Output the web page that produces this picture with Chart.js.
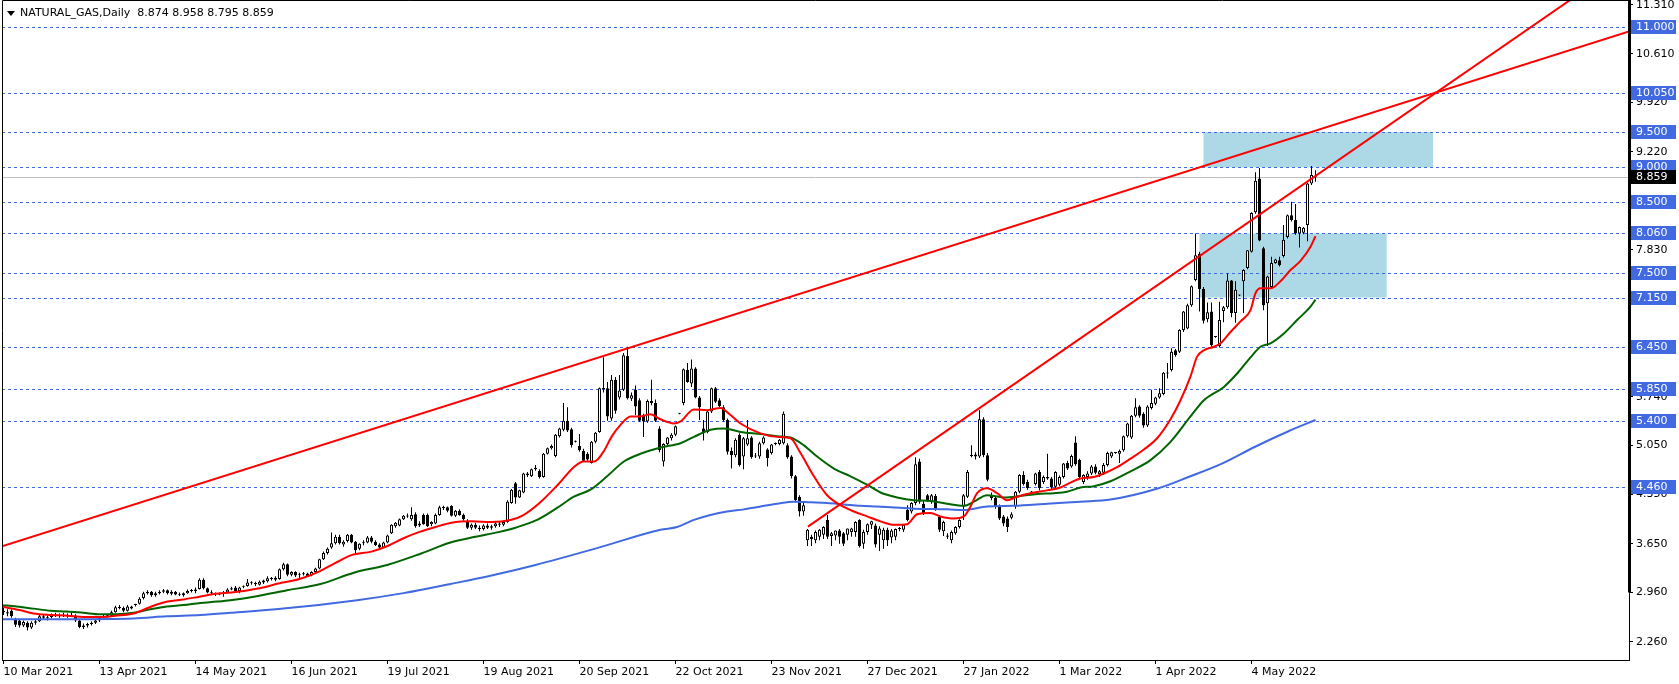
<!DOCTYPE html>
<html>
<head>
<meta charset="utf-8">
<title>NATURAL_GAS, Daily</title>
<script src="https://cdn.jsdelivr.net/npm/chart.js@4.4.1/dist/chart.umd.min.js"></script>
<style>
  html, body { margin: 0; padding: 0; background: #fff; }
  #wrap { position: relative; width: 1679px; height: 684px; }
</style>
</head>
<body>
<div id="wrap"><canvas id="gasChart"></canvas></div>
<script>
'use strict';

// daily candles, bar 0 = 10 Mar 2021
const open = [
  2.70,2.66,2.70,2.58,2.56,2.49,2.53,2.46,2.53,2.55, 2.62,2.60,2.61,2.64,2.63,2.64,2.62,2.64,2.63,2.56,
  2.47,2.49,2.51,2.53,2.56,2.60,2.62,2.63,2.68,2.75, 2.74,2.70,2.76,2.78,2.80,2.88,2.95,2.97,2.92,2.95,
  2.97,2.99,2.94,2.97,2.93,2.92,2.95,2.98,2.98,3.01, 3.14,3.02,2.96,2.95,2.93,2.94,2.96,3.00,3.03,2.98,
  3.04,3.05,3.10,3.09,3.07,3.10,3.12,3.16,3.14,3.15, 3.29,3.36,3.21,3.25,3.21,3.22,3.23,3.20,3.25,3.30,
  3.43,3.52,3.60,3.66,3.75,3.64,3.69,3.78,3.68,3.58, 3.66,3.67,3.74,3.68,3.64,3.60,3.67,3.80,3.90,3.91,
  4.00,4.05,4.00,4.07,3.91,4.06,4.06,3.93,3.94,4.06, 4.17,4.17,4.19,4.05,4.12,4.06,3.98,3.88,3.92,3.88,
  3.86,3.91,3.88,3.90,3.94,3.92,3.96,4.23,4.51,4.31, 4.38,4.65,4.61,4.71,4.69,4.60,4.93,5.01,4.90,5.18,
  5.27,5.40,5.28,5.10,5.04,4.97,4.93,4.80,5.10,5.24, 5.85,5.86,5.43,5.98,5.73,5.84,6.32,5.71,5.84,5.69,
  5.48,5.39,5.68,5.65,5.29,4.82,5.07,5.15,5.20,5.50, 5.65,6.12,5.93,6.14,5.73,5.29,5.24,5.53,5.86,5.69,
  5.59,5.41,4.97,4.91,5.20,4.89,5.06,5.16,4.90,4.89, 5.08,4.99,4.94,5.07,5.07,5.08,5.05,4.89,4.61,4.32,
  4.11,3.70,3.75,3.70,3.75,3.78,3.99,3.76,3.77,3.84, 3.80,3.78,3.82,3.82,3.99,3.65,3.82,3.92,3.91,3.78,
  3.70,3.85,3.74,3.75,3.86,3.85,4.13,4.11,4.23,4.82, 4.22,4.34,4.25,4.33,4.03,3.83,3.77,3.70,3.80,3.89,
  4.18,4.32,4.91,4.89,4.89,5.42,4.91,4.34,4.30,4.18, 4.04,4.01,4.02,4.18,4.39,4.63,4.53,4.38,4.50,4.67,
  4.53,4.60,4.58,4.46,4.49,4.60,4.80,4.75,5.09,4.84, 4.53,4.60,4.65,4.75,4.64,4.66,4.77,4.89,4.94,4.93,
  4.98,5.18,5.16,5.47,5.60,5.50,5.33,5.58,5.64,5.73, 5.78,6.07,6.12,6.40,6.38,6.69,6.71,7.04,7.40,7.77,
  7.27,6.84,6.95,6.59,6.46,6.96,7.01,7.39,6.93,7.18, 7.38,7.57,7.80,8.36,8.84,7.85,7.07,7.30,7.64,7.68,
  7.74,8.01,8.32,8.25,8.06,8.07,8.18,8.77,8.874
];
const high = [
  2.74,2.72,2.72,2.60,2.58,2.56,2.55,2.55,2.58,2.64, 2.64,2.63,2.66,2.67,2.66,2.67,2.66,2.67,2.65,2.58,
  2.52,2.53,2.55,2.57,2.62,2.64,2.65,2.70,2.77,2.78, 2.76,2.78,2.77,2.80,2.89,2.97,2.99,2.98,2.97,2.99,
  3.01,3.00,2.99,2.98,2.96,2.96,3.00,3.01,3.03,3.16, 3.16,3.03,2.99,2.96,2.96,2.98,3.02,3.04,3.05,3.04,
  3.06,3.15,3.12,3.11,3.13,3.14,3.19,3.18,3.19,3.30, 3.38,3.37,3.26,3.26,3.24,3.25,3.24,3.26,3.31,3.44,
  3.54,3.60,3.81,3.78,3.78,3.70,3.79,3.79,3.69,3.66, 3.70,3.76,3.76,3.70,3.66,3.68,3.78,3.93,3.96,4.01,
  4.06,4.08,4.17,4.10,3.97,4.08,4.08,3.97,4.08,4.19, 4.19,4.18,4.20,4.13,4.14,4.08,4.00,3.94,3.95,3.91,
  3.93,3.94,3.92,3.96,3.97,3.98,4.27,4.43,4.53,4.42, 4.66,4.67,4.72,4.77,4.71,4.94,5.02,5.06,5.21,5.30,
  5.65,5.59,5.30,5.12,5.21,5.00,4.95,5.11,5.24,5.87, 6.30,5.95,6.05,6.02,6.05,6.36,6.45,5.80,5.90,5.72,
  5.50,5.70,5.98,5.70,5.32,5.08,5.17,5.22,5.33,5.51, 6.14,6.22,6.27,6.16,5.75,5.41,5.55,5.87,5.88,5.72,
  5.62,5.43,5.02,5.15,5.22,5.17,5.41,5.18,4.94,5.10, 5.18,5.01,5.07,5.09,5.14,5.53,5.08,4.91,4.63,4.34,
  4.26,3.86,3.78,3.84,3.86,3.90,4.06,3.82,3.84,3.86, 3.82,3.87,3.88,3.97,4.00,3.85,3.94,3.98,3.94,3.90,
  3.88,3.88,3.86,3.87,3.89,3.93,4.20,4.24,4.88,4.86, 4.26,4.36,4.36,4.36,4.06,3.98,3.80,3.84,3.90,4.00,
  4.36,4.70,5.05,4.95,5.55,5.45,4.94,4.38,4.32,4.21, 4.06,4.04,4.10,4.40,4.64,4.68,4.56,4.40,4.66,4.70,
  4.62,4.93,4.60,4.68,4.62,4.80,4.83,4.92,5.18,4.86, 4.64,4.68,4.77,4.78,4.70,4.80,4.96,4.96,4.95,4.99,
  5.19,5.37,5.48,5.72,5.62,5.52,5.62,5.84,5.74,5.86, 6.09,6.22,6.43,6.42,6.70,6.96,7.06,7.32,8.06,7.80,
  7.30,7.08,7.08,6.60,7.09,7.03,7.49,7.40,7.38,7.19, 7.55,7.82,8.36,8.93,8.99,7.87,7.46,7.73,7.70,7.73,
  8.18,8.33,8.51,8.48,8.16,8.15,8.78,9.02,8.958
];
const low = [
  2.64,2.62,2.60,2.47,2.46,2.47,2.42,2.44,2.50,2.54, 2.58,2.56,2.59,2.61,2.60,2.61,2.60,2.62,2.54,2.45,
  2.44,2.46,2.49,2.51,2.54,2.58,2.60,2.62,2.67,2.72, 2.68,2.69,2.72,2.76,2.79,2.86,2.93,2.90,2.90,2.93,
  2.95,2.93,2.92,2.92,2.91,2.90,2.94,2.96,2.95,3.00, 3.00,2.95,2.93,2.91,2.92,2.90,2.95,2.99,2.96,2.95,
  3.02,3.04,3.07,3.05,3.06,3.08,3.10,3.13,3.12,3.14, 3.27,3.19,3.19,3.18,3.16,3.20,3.18,3.19,3.24,3.29,
  3.42,3.50,3.58,3.64,3.64,3.61,3.67,3.66,3.52,3.56, 3.63,3.66,3.66,3.62,3.58,3.59,3.66,3.79,3.88,3.90,
  3.99,4.02,3.98,3.88,3.89,3.92,3.89,3.90,3.93,4.05, 4.13,4.10,4.04,4.03,4.05,3.98,3.86,3.85,3.86,3.83,
  3.84,3.86,3.85,3.88,3.89,3.90,3.95,4.22,4.22,4.30, 4.37,4.60,4.60,4.69,4.58,4.59,4.92,4.99,4.88,5.16,
  5.25,5.24,5.02,5.09,4.96,4.82,4.83,4.79,5.08,5.23, 5.80,5.40,5.40,5.50,5.70,5.82,5.70,5.68,5.48,5.38,
  5.17,5.37,5.62,5.38,4.95,4.75,5.05,5.12,5.18,5.49, 5.62,5.94,5.88,5.72,5.41,5.12,5.22,5.51,5.65,5.59,
  5.39,4.92,4.72,4.88,4.75,4.71,5.04,4.86,4.87,4.86, 5.06,4.75,4.92,5.05,5.05,5.06,4.86,4.58,4.25,4.04,
  4.05,3.62,3.62,3.66,3.70,3.72,3.72,3.62,3.70,3.65, 3.62,3.70,3.75,3.75,3.60,3.58,3.78,3.86,3.60,3.55,
  3.58,3.62,3.66,3.70,3.83,3.82,3.97,4.08,4.20,4.22, 4.06,4.25,4.22,4.12,3.82,3.76,3.72,3.66,3.78,3.87,
  3.99,4.30,4.88,4.85,4.87,4.88,4.54,4.27,4.15,3.99, 3.90,3.82,4.00,4.15,4.37,4.48,4.42,4.36,4.48,4.41,
  4.50,4.56,4.43,4.44,4.47,4.58,4.70,4.73,4.76,4.58, 4.50,4.56,4.63,4.64,4.60,4.63,4.75,4.87,4.93,4.80,
  4.96,5.16,5.14,5.45,5.44,5.30,5.31,5.56,5.62,5.71, 5.76,6.00,6.10,6.31,6.36,6.66,6.70,7.02,7.38,6.95,
  6.78,6.80,6.45,6.58,6.44,6.80,6.99,6.87,6.79,7.17, 6.93,7.55,7.79,8.34,7.95,6.97,6.46,7.28,7.63,7.59,
  7.72,7.99,8.23,8.04,7.86,8.05,7.95,8.75,8.795
];
const close = [
  2.68,2.68,2.62,2.50,2.49,2.54,2.46,2.53,2.55,2.62, 2.60,2.61,2.64,2.63,2.64,2.62,2.64,2.63,2.56,2.47,
  2.49,2.51,2.53,2.56,2.60,2.62,2.63,2.68,2.75,2.74, 2.70,2.76,2.73,2.78,2.87,2.95,2.97,2.92,2.95,2.97,
  2.99,2.95,2.97,2.93,2.92,2.95,2.98,2.99,3.00,3.14, 3.02,2.96,2.95,2.93,2.94,2.96,3.00,3.02,2.98,3.03,
  3.05,3.10,3.09,3.08,3.11,3.13,3.16,3.15,3.17,3.29, 3.36,3.21,3.25,3.20,3.22,3.23,3.19,3.25,3.30,3.43,
  3.52,3.58,3.66,3.75,3.66,3.68,3.78,3.67,3.56,3.65, 3.67,3.74,3.68,3.63,3.60,3.67,3.77,3.92,3.95,4.00,
  4.05,4.04,4.06,3.90,3.94,3.93,3.90,3.96,4.06,4.17, 4.16,4.12,4.05,4.12,4.06,4.00,3.88,3.92,3.88,3.86,
  3.91,3.88,3.90,3.94,3.92,3.96,4.25,4.42,4.31,4.41, 4.65,4.63,4.71,4.73,4.60,4.93,5.01,5.04,5.20,5.29,
  5.40,5.26,5.05,5.10,4.98,4.83,4.85,5.10,5.23,5.86, 5.86,5.46,5.98,5.54,5.83,6.33,5.72,5.76,5.60,5.40,
  5.39,5.68,5.65,5.40,4.98,5.07,5.16,5.20,5.32,5.50, 6.13,5.95,6.14,5.73,5.59,5.22,5.53,5.86,5.67,5.61,
  5.41,4.96,4.91,5.13,4.77,5.15,5.15,4.88,4.89,5.08, 5.16,4.87,5.06,5.07,5.13,5.50,4.88,4.61,4.27,4.11,
  4.20,3.85,3.72,3.82,3.85,3.89,3.75,3.80,3.84,3.75, 3.65,3.87,3.87,3.96,3.62,3.82,3.93,3.97,3.64,3.87,
  3.85,3.70,3.84,3.86,3.86,3.92,3.99,4.23,4.78,4.25, 4.08,4.27,4.34,4.13,3.85,3.96,3.75,3.82,3.89,3.99,
  4.34,4.67,4.90,4.92,5.42,4.91,4.56,4.30,4.18,4.01, 3.94,3.89,4.07,4.39,4.63,4.50,4.44,4.38,4.65,4.44,
  4.60,4.58,4.45,4.67,4.60,4.79,4.72,4.90,4.78,4.60, 4.63,4.65,4.75,4.66,4.68,4.77,4.94,4.95,4.94,4.97,
  5.18,5.36,5.47,5.59,5.47,5.33,5.60,5.65,5.73,5.79, 6.08,6.08,6.38,6.33,6.69,6.95,7.04,7.31,7.75,7.27,
  6.82,6.94,6.47,6.59,6.83,7.01,7.39,6.93,7.26,7.18, 7.54,7.82,8.35,8.81,7.96,7.04,7.45,7.64,7.69,7.61,
  7.97,8.32,8.25,8.06,8.15,8.14,8.77,8.89,8.859
];

// moving averages: [bar, price]
const maRed = [
  [-0.5,2.76],[4,2.71],[7.5,2.66],[12,2.64],[16,2.63],[20,2.61],[24,2.61],[28,2.63],[32.5,2.66],[37,2.76],
  [41,2.83],[45,2.86],[49,2.90],[53,2.94],[57,2.96],[64,3.02],[69,3.09],[74,3.15],[79,3.26],[83,3.38],
  [87,3.49],[92,3.54],[96,3.62],[100,3.73],[104,3.82],[108,3.89],[112,3.95],[117,3.97],[122,3.96],[126.75,3.99],
  [130,4.06],[134,4.23],[138.6,4.49],[142.75,4.75],[145,4.82],[147.7,4.82],[150,4.96],[152,5.17],[154.25,5.34],[156.75,5.46],
  [159,5.46],[161.75,5.49],[164.25,5.42],[167.6,5.36],[169.25,5.39],[172.6,5.56],[175.9,5.55],[179.25,5.58],[181.75,5.48],[184.25,5.36],
  [189.25,5.22],[193.4,5.17],[196.75,5.15],[199.25,4.94],[202.6,4.61],[205.9,4.34],[209.25,4.20],[212.6,4.11],[215.9,4.04],[219.25,3.97],
  [222.6,3.92],[225.9,3.93],[228.4,4.07],[231.75,4.09],[234.25,4.04],[237.6,4.01],[240.1,4.04],[241.75,4.18],[243.4,4.37],[245.9,4.44],
  [248.4,4.37],[250.9,4.27],[253.4,4.32],[256.75,4.37],[260.9,4.41],[264.25,4.45],[266.75,4.52],[269.25,4.58],[272.6,4.60],[275.1,4.65],
  [278.4,4.74],[281.75,4.86],[285.1,4.99],[288.4,5.15],[291.75,5.42],[294.25,5.69],[296.75,6.03],[298.4,6.31],[300.1,6.40],[302.6,6.45],
  [304.25,6.50],[306.75,6.66],[309.25,6.81],[311.75,6.97],[313,7.21],[314.25,7.28],[316.75,7.28],[319.25,7.38],[321.75,7.54],[324.25,7.67],
  [326.75,7.87],[328,8.02]
];
const maGreen = [
  [-0.5,2.78],[3.3,2.76],[7.5,2.73],[11.7,2.70],[15.8,2.69],[20,2.67],[24.2,2.65],[28.3,2.65],[32.5,2.67],[36.7,2.72],
  [40.8,2.76],[45,2.78],[49.2,2.81],[53.3,2.83],[56.7,2.85],[62.6,2.90],[70.9,2.99],[79.25,3.08],[87.6,3.24],[95.9,3.35],
  [104.25,3.51],[111.75,3.67],[118,3.75],[124,3.82],[128,3.88],[133.4,3.99],[138.4,4.16],[142.6,4.32],[146.75,4.42],[150.9,4.61],
  [155.1,4.82],[159.25,4.93],[164.25,5.02],[169.25,5.08],[172.6,5.17],[176.75,5.27],[180.1,5.29],[184.25,5.24],[189.25,5.21],[193.4,5.18],
  [196.75,5.16],[200.1,5.05],[203.4,4.89],[207.6,4.72],[211.75,4.61],[215.9,4.49],[219.25,4.38],[223.4,4.31],[227.6,4.27],[231.75,4.26],
  [235.9,4.22],[240.1,4.19],[242.6,4.25],[245.9,4.34],[250.1,4.31],[254.25,4.33],[258.4,4.36],[262.6,4.37],[265.9,4.39],[269.25,4.45],
  [272.6,4.47],[276.75,4.54],[281.75,4.68],[286.75,4.84],[291.75,5.10],[296.75,5.46],[300.1,5.69],[305.1,5.88],[308.4,6.07],[311.75,6.30],
  [314.25,6.45],[316.75,6.50],[320.1,6.64],[323.4,6.83],[326.75,7.02],[328,7.12]
];
const maBlue = [
  [-0.5,2.58],[15.8,2.58],[32.5,2.59],[40.8,2.62],[49.2,2.64],[56.7,2.67],[70,2.73],[88.4,2.85],[100,2.95],[111.75,3.08],
  [122,3.20],[133,3.35],[149,3.60],[164.25,3.85],[168.4,3.89],[172.6,3.99],[176.75,4.06],[180.9,4.11],[185.1,4.14],[189.25,4.18],
  [193.4,4.22],[197.6,4.25],[201.75,4.24],[205.9,4.23],[210.1,4.21],[214.25,4.19],[218.4,4.18],[221.75,4.17],[227.6,4.15],[235.9,4.14],
  [240.1,4.13],[245.9,4.18],[252.6,4.19],[260.9,4.22],[269.25,4.25],[276.75,4.28],[288.75,4.44],[296.25,4.60],[304.6,4.79],[312.9,5.03],
  [321.25,5.25],[328,5.41]
];

// drawn objects
const trendA = [[-0.375, 3.615], [406.375, 10.93]];
const trendB = [[201.1, 3.894], [392, 11.39]];
const zoneFrom = [300, 299];
const zoneTo = [357.4, 345.8];
const zoneLow = [9.0, 7.15];
const zoneHigh = [9.5, 8.06];
const levels = [11.0, 10.05, 9.5, 9.0, 8.5, 8.06, 7.5, 7.15, 6.45, 5.85, 5.4, 4.46];

// axis labels
const priceTicks = [11.31, 10.61, 9.92, 9.22, 8.53, 7.83, 7.14, 6.45, 5.74, 5.05, 4.35, 3.65, 2.96, 2.26];
const dateTicks = ['10 Mar 2021', '13 Apr 2021', '14 May 2021', '16 Jun 2021', '19 Jul 2021', '19 Aug 2021', '20 Sep 2021',
  '22 Oct 2021', '23 Nov 2021', '27 Dec 2021', '27 Jan 2022', '1 Mar 2022', '1 Apr 2022', '4 May 2022'];
const dateTickBars = [0, 24, 48, 72, 96, 120, 144, 168, 192, 216, 240, 264, 288, 312];

const FONT = '11px "DejaVu Sans"';
Chart.defaults.font.family = '"DejaVu Sans"';
Chart.defaults.font.size = 11;
Chart.defaults.color = '#000';

const last = close.length - 1;
const bars = close.map((_, i) => i);
const pts = arr => arr.map(p => ({x: p[0], y: p[1]}));

// zones, levels, price labels, title
const mtOverlay = {
  id: 'mtOverlay',
  beforeDatasetsDraw(chart) {
    const {ctx, chartArea: a, scales: {x, y}} = chart;
    ctx.save();
    ctx.beginPath();
    ctx.rect(a.left, a.top, a.width, a.height);
    ctx.clip();
    ctx.fillStyle = '#ADD8E6';
    zoneFrom.forEach((f, k) => {
      const x0 = x.getPixelForValue(f), x1 = x.getPixelForValue(zoneTo[k]);
      const y0 = y.getPixelForValue(zoneHigh[k]), y1 = y.getPixelForValue(zoneLow[k]);
      ctx.fillRect(x0, y0, x1 - x0, y1 - y0);
    });
    ctx.lineWidth = 1;
    ctx.strokeStyle = '#C0C0C0';
    let py = Math.round(y.getPixelForValue(close[last])) + 0.5;
    ctx.beginPath(); ctx.moveTo(a.left, py); ctx.lineTo(a.right, py); ctx.stroke();
    ctx.strokeStyle = '#4169E1';
    ctx.setLineDash([3, 3]);
    levels.forEach(v => {
      py = Math.round(y.getPixelForValue(v)) + 0.5;
      ctx.beginPath(); ctx.moveTo(a.left, py); ctx.lineTo(a.right, py); ctx.stroke();
    });
    ctx.restore();
  },
  afterDraw(chart) {
    const {ctx, chartArea: a, scales: {y}} = chart;
    ctx.save();
    // frame
    ctx.strokeStyle = '#000';
    ctx.lineWidth = 1;
    ctx.beginPath();
    ctx.moveTo(a.left + 0.5, a.bottom); ctx.lineTo(a.left + 0.5, 0.5); ctx.lineTo(a.right, 0.5);
    ctx.stroke();
    ctx.fillStyle = '#000';
    ctx.fillRect(a.right - 1, 0, 3, y.getPixelForValue(2.96));
    // price boxes
    ctx.font = FONT;
    ctx.textBaseline = 'middle';
    ctx.textAlign = 'left';
    const box = (v, bg) => {
      const py = Math.round(y.getPixelForValue(v));
      ctx.fillStyle = bg;
      ctx.fillRect(a.right + 2, py - 7, 45, 14);
      ctx.fillStyle = '#fff';
      ctx.fillText(v.toFixed(3), a.right + 7, py + 0.5);
    };
    levels.forEach(v => box(v, '#4169E1'));
    box(close[last], '#000');
    // title
    ctx.fillStyle = '#000';
    ctx.beginPath();
    ctx.moveTo(7, 11); ctx.lineTo(15, 11); ctx.lineTo(11, 16); ctx.closePath();
    ctx.fill();
    ctx.fillText('NATURAL_GAS,Daily  ' + [open[last], high[last], low[last], close[last]].map(v => v.toFixed(3)).join(' '), 20, 13.5);
    ctx.restore();
  }
};

const chart = new Chart(document.getElementById('gasChart'), {
  type: 'bar',
  data: {
    datasets: [
      {
        type: 'line', label: 'Trend 1', data: pts(trendA),
        borderColor: '#FF0000', borderWidth: 2, pointRadius: 0, order: 0
      },
      {
        type: 'line', label: 'Trend 2', data: pts(trendB),
        borderColor: '#FF0000', borderWidth: 2, pointRadius: 0, order: 0
      },
      {
        type: 'line', label: 'MA fast', data: pts(maRed),
        borderColor: '#FF0000', borderWidth: 2, pointRadius: 0, cubicInterpolationMode: 'monotone', order: 1
      },
      {
        type: 'line', label: 'MA mid', data: pts(maGreen),
        borderColor: '#006400', borderWidth: 2, pointRadius: 0, cubicInterpolationMode: 'monotone', order: 1
      },
      {
        type: 'line', label: 'MA slow', data: pts(maBlue),
        borderColor: '#4169E1', borderWidth: 2, pointRadius: 0, cubicInterpolationMode: 'monotone', order: 1
      },
      {
        label: 'Body',
        data: bars.map(i => ({x: i, y: [open[i], close[i]]})),
        backgroundColor: bars.map(i => close[i] >= open[i] ? '#ffffff' : '#000000'),
        borderColor: '#000', borderWidth: 1, borderSkipped: false,
        barThickness: 3, maxBarThickness: 3, minBarLength: 1,
        grouped: false, inflateAmount: 0, order: 2
      },
      {
        label: 'Wick',
        data: bars.map(i => ({x: i, y: [low[i], high[i]]})),
        backgroundColor: '#000', borderWidth: 0,
        barThickness: 1, maxBarThickness: 1,
        grouped: false, inflateAmount: 0, order: 3
      }
    ]
  },
  options: {
    responsive: true,
    maintainAspectRatio: false,
    animation: false,
    events: [],
    layout: { padding: { left: 2, top: 1, right: 0, bottom: 0 } },
    plugins: { legend: { display: false }, tooltip: { enabled: false } },
    scales: {
      x: {
        type: 'linear', min: -0.375, max: 406.375, offset: false,
        grid: { offset: false, drawOnChartArea: false, drawTicks: true, tickLength: 4, color: '#000' },
        border: { display: true, color: '#000', width: 1 },
        ticks: {
          autoSkip: false, maxRotation: 0, minRotation: 0, align: 'start', padding: 2,
          callback: (v, i) => dateTicks[i]
        },
        afterBuildTicks: axis => { axis.ticks = dateTickBars.map(v => ({value: v})); },
        afterFit: s => { s.height = 24; s.paddingLeft = 0; s.paddingRight = 0; }
      },
      y: {
        position: 'right', min: 2.0, max: 11.3626, beginAtZero: false,
        grid: { drawOnChartArea: false, drawTicks: true, tickLength: 4, color: '#000' },
        border: { display: true, color: '#000', width: 1 },
        ticks: { padding: 3, crossAlign: 'near', callback: v => Number(v).toFixed(3) },
        afterBuildTicks: axis => { axis.ticks = priceTicks.map(v => ({value: v})); },
        afterFit: s => { s.width = 50; s.paddingTop = 0; s.paddingBottom = 0; }
      }
    }
  },
  plugins: [mtOverlay]
});
</script>
</body>
</html>
